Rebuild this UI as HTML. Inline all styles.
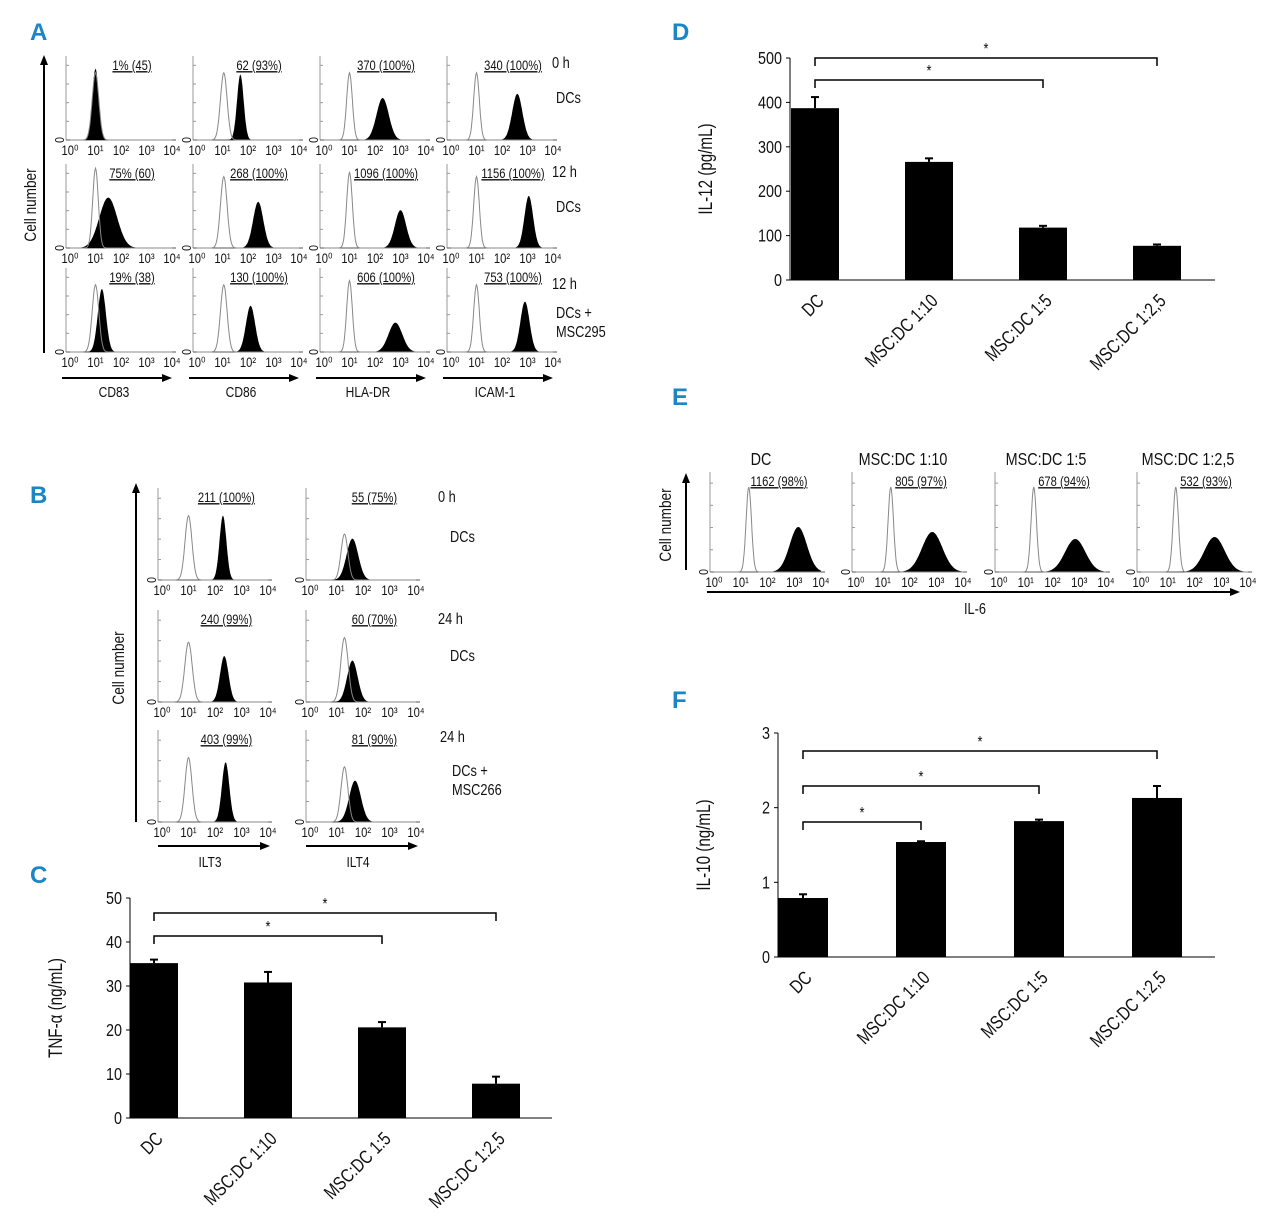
<!DOCTYPE html>
<html><head><meta charset="utf-8"><style>
html,body{margin:0;padding:0;background:#fff}
svg{display:block;font-family:"Liberation Sans Narrow","Liberation Sans",sans-serif}
</style></head><body>
<svg id="fig" width="1280" height="1221" viewBox="0 0 1280 1221" xmlns="http://www.w3.org/2000/svg">
<g font-family="Liberation Sans, sans-serif" font-weight="bold" font-size="24" fill="#1a86c6">
<text x="30" y="40">A</text>
<text x="30" y="503">B</text>
<text x="30" y="883">C</text>
<text x="672" y="40">D</text>
<text x="672" y="405">E</text>
<text x="672" y="708">F</text>
</g>
</svg>
<script>
// ---------- Histogram data (peak decade, width, height fraction) ----------
const aLabels=[["1% (45)","62 (93%)","370 (100%)","340 (100%)"],["75% (60)","268 (100%)","1096 (100%)","1156 (100%)"],["19% (38)","130 (100%)","606 (100%)","753 (100%)"]];
const aGray=[[[1.0,0.13,0.8],[1.05,0.13,0.8],[1.0,0.11,0.8],[1.0,0.11,0.8]],[[1.0,0.11,0.95],[1.05,0.13,0.85],[1.0,0.11,0.9],[1.0,0.11,0.85]],[[1.0,0.13,0.8],[1.05,0.13,0.8],[1.0,0.11,0.85],[1.0,0.11,0.8]]];
const aFill=[[[1.0,0.13,0.85],[1.7,0.13,0.78],[2.3,0.24,0.5],[2.6,0.2,0.55]],[[1.5,0.35,0.6],[2.4,0.2,0.55],[3.0,0.22,0.45],[3.05,0.17,0.62]],[[1.25,0.16,0.75],[2.1,0.18,0.55],[2.8,0.27,0.35],[2.9,0.18,0.6]]];
const aCols=["CD83","CD86","HLA-DR","ICAM-1"];
const bLabels=[["211 (100%)","55 (75%)"],["240 (99%)","60 (70%)"],["403 (99%)","81 (90%)"]];
const bGray=[[[1.0,0.13,0.7],[1.3,0.13,0.5]],[[1.0,0.14,0.65],[1.3,0.14,0.7]],[[1.0,0.13,0.7],[1.3,0.13,0.6]]];
const bFill=[[[2.3,0.13,0.7],[1.6,0.22,0.45]],[[2.35,0.16,0.5],[1.6,0.2,0.45]],[[2.4,0.14,0.65],[1.7,0.22,0.45]]];
const bCols=["ILT3","ILT4"];
const eTitles=["DC","MSC:DC 1:10","MSC:DC 1:5","MSC:DC 1:2,5"];
const eLabels=["1162 (98%)","805 (97%)","678 (94%)","532 (93%)"];
const eGray=[[1.3,0.1,0.85],[1.3,0.1,0.85],[1.3,0.1,0.85],[1.3,0.1,0.85]];
const eFill=[[3.15,0.32,0.45],[2.85,0.38,0.4],[2.85,0.38,0.33],[2.75,0.38,0.35]];
// ---------- Bar data ----------
const cats=["DC","MSC:DC 1:10","MSC:DC 1:5","MSC:DC 1:2,5"];
const cVals=[35.2,30.8,20.6,7.8], cErr=[0.8,2.4,1.2,1.6], cTicks=[0,10,20,30,40,50];
const dVals=[387,266,118,77], dErr=[25,8,4,3], dTicks=[0,100,200,300,400,500];
const fVals=[0.79,1.54,1.82,2.13], fErr=[0.05,0.01,0.02,0.16], fTicks=[0,1,2,3];

const svg=document.getElementById('fig');const NS="http://www.w3.org/2000/svg";
const SX=0.8;
function el(tag,attrs,parent,text){const e=document.createElementNS(NS,tag);for(const k in attrs)e.setAttribute(k,attrs[k]);if(text!==undefined)e.textContent=text;(parent||svg).appendChild(e);return e;}
function txt(x,y,s,size,parent,anchor,rot,extra){
  const tr=`translate(${x} ${y})`+(rot?` rotate(${rot})`:'')+` scale(${SX} 1)`;
  return el('text',Object.assign({x:0,y:0,transform:tr,'font-size':size||14,'text-anchor':anchor||'start',fill:'#111'},extra||{}),parent,s);
}
function arrowH(x1,x2,y,p){el('line',{x1:x1,y1:y,x2:x2-8,y2:y,stroke:'#000','stroke-width':2},p);el('path',{d:`M${x2},${y} L${x2-10},${y-4} L${x2-10},${y+4}Z`,fill:'#000'},p);}
function arrowV(x,y1,y2,p){el('line',{x1:x,y1:y1,x2:x,y2:y2+8,stroke:'#000','stroke-width':2},p);el('path',{d:`M${x},${y2} L${x-4},${y2+10} L${x+4},${y2+10}Z`,fill:'#000'},p);}
const sup=["⁰","¹","²","³","⁴"];
function hist(x0,yb,w,h,gray,fill,label,name){
  const g=el('g',{});
  
  
  const sx=d=>x0+4+d/4*(w-8);
  el('line',{x1:x0,y1:yb,x2:x0,y2:yb-h,stroke:'#999','stroke-width':1},g);
  for(let i=1;i<=4;i++)el('line',{x1:x0,y1:yb-h*i/4.5,x2:x0+3,y2:yb-h*i/4.5,stroke:'#999'},g);
  el('line',{x1:x0,y1:yb,x2:x0+w,y2:yb,stroke:'#555','stroke-width':1},g);
  txt(x0-2,yb,"0",13,g,'middle',-90);
  const curve=(p)=>{let d=`M${sx(0)},${yb}`;for(let i=0;i<=160;i++){const v=i/40;const y=p[2]*Math.exp(-Math.pow((v-p[0])/p[1],2)/2);d+=` L${sx(v).toFixed(1)},${(yb-y*h).toFixed(1)}`;}return d+` L${sx(4)},${yb}`;};
  el('path',{d:curve(fill)+'Z',fill:'#000'},g);
  el('path',{d:curve(gray),fill:'none',stroke:'#888','stroke-width':1},g);
  for(let i=0;i<5;i++)txt(sx(i),yb+15,"10"+sup[i],14,g,'middle');
  const t=txt(x0+w*0.6,yb-h+14,label,14,g,'middle',0,{'text-decoration':'underline'});
  
  
  return g;
}
// ---------- Panel A ----------
const aX=[66,193,320,447], aY=[140,248,352];
aY.forEach((yb,r)=>aX.forEach((x,c)=>hist(x,yb,110,84,aGray[r][c],aFill[r][c],aLabels[r][c],'histogram-a-r'+(r+1)+'-c'+(c+1))));
arrowV(44,353,55);
txt(36,205,"Cell number",17,svg,'middle',-90);
aX.forEach((x,c)=>{arrowH(x-4,x+106,378);const t=txt(x+48,397,aCols[c],15,svg,'middle');});
[["0 h",552,68],["DCs",556,103],["12 h",552,177],["DCs",556,212],["12 h",552,289],["DCs +",556,318],["MSC295",556,337]].forEach(a=>txt(a[1],a[2],a[0],16));
// ---------- Panel B ----------
const bX=[158,306], bY=[580,702,822];
bY.forEach((yb,r)=>bX.forEach((x,c)=>hist(x,yb,114,92,bGray[r][c],bFill[r][c],bLabels[r][c],'histogram-b-r'+(r+1)+'-c'+(c+1))));
arrowV(136,822,483);
txt(124,668,"Cell number",17,svg,'middle',-90);
bX.forEach((x,c)=>{arrowH(x,x+112,846);txt(x+52,867,bCols[c],15,svg,'middle');});
[["0 h",438,502],["DCs",450,542],["24 h",438,624],["DCs",450,661],["24 h",440,742],["DCs +",452,776],["MSC266",452,795]].forEach(a=>txt(a[1],a[2],a[0],16));
// ---------- Panel E ----------
const eX=[710,852,995,1137];
eX.forEach((x,i)=>{hist(x,572,115,100,eGray[i],eFill[i],eLabels[i],'histogram-e-'+(i+1));txt(x+51,465,eTitles[i],18,svg,'middle');});
arrowV(686,570,473);
txt(671,525,"Cell number",17,svg,'middle',-90);
arrowH(707,1240,592);
txt(975,614,"IL-6",16,svg,'middle');
// ---------- Bar charts ----------
function bars(o){
  const g=el('g',{});
  
  
  const ymax=o.ticks[o.ticks.length-1];
  const sy=v=>o.y0-(v/ymax)*(o.y0-o.y1);
  el('line',{x1:o.ax,y1:o.y0,x2:o.ax,y2:o.y1,stroke:'#000','stroke-width':1},g);
  el('line',{x1:o.ax,y1:o.y0,x2:o.xr,y2:o.y0,stroke:'#000','stroke-width':1},g);
  o.ticks.forEach(t=>{el('line',{x1:o.ax-4,y1:sy(t),x2:o.ax,y2:sy(t),stroke:'#000'},g);const tt=txt(o.ax-8,sy(t)+6,String(t),18,g,'end');});
  const cx=i=>o.c0+i*o.step;
  o.vals.forEach((v,i)=>{
    const r=el('rect',{x:cx(i)-o.bw/2,y:sy(v),width:o.bw,height:o.y0-sy(v),fill:'#000'},g);
    
    
    const top=sy(v+o.err[i]);
    el('line',{x1:cx(i),y1:sy(v),x2:cx(i),y2:top,stroke:'#000','stroke-width':2},g);
    el('line',{x1:cx(i)-4,y1:top,x2:cx(i)+4,y2:top,stroke:'#000','stroke-width':2},g);
    const lx=cx(i)+10,ly=o.y0+22;
    const t=txt(lx,ly,cats[i],19,g,'end',-45);
    
    
  });
  o.brackets.forEach(b=>{const x1=cx(b[0]),x2=cx(b[1]);el('path',{d:`M${x1},${b[2]+8} V${b[2]} H${x2} V${b[2]+8}`,fill:'none',stroke:'#000','stroke-width':1.5},g);txt((x1+x2)/2,b[2]-4,"*",16,g,'middle');});
  const yt=txt(o.titleX,(o.y0+o.y1)/2,o.title,19,g,'middle',-90);
  
  
}
bars({name:'tnf-alpha-chart',ax:130,y0:1118,y1:898,xr:552,c0:154,step:114,bw:48,vals:cVals,err:cErr,ticks:cTicks,brackets:[[0,2,936],[0,3,913]],title:"TNF-α (ng/mL)",titleX:62});
bars({name:'il12-chart',ax:790,y0:280,y1:58,xr:1215,c0:815,step:114,bw:48,vals:dVals,err:dErr,ticks:dTicks,brackets:[[0,2,80],[0,3,58]],title:"IL-12 (pg/mL)",titleX:712});
bars({name:'il10-chart',ax:778,y0:957,y1:733,xr:1215,c0:803,step:118,bw:50,vals:fVals,err:fErr,ticks:fTicks,brackets:[[0,1,822],[0,2,786],[0,3,751]],title:"IL-10 (ng/mL)",titleX:710});
</script>
</body></html>
